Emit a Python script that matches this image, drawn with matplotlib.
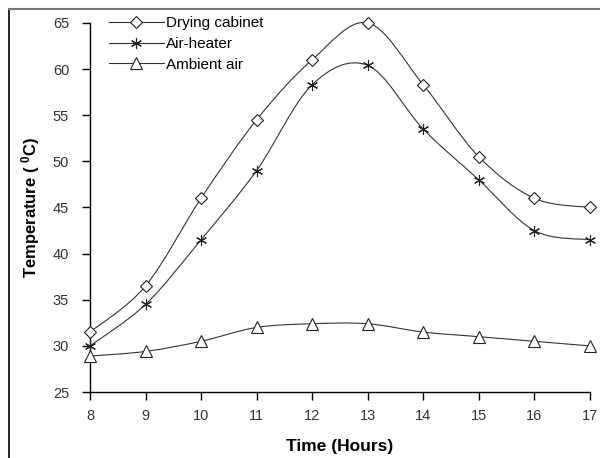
import numpy as np
import matplotlib
matplotlib.use("Agg")
import matplotlib.pyplot as plt
from matplotlib.path import Path
from matplotlib.patches import PathPatch
from matplotlib.lines import Line2D

plt.rcParams['font.family'] = ['Liberation Sans', 'DejaVu Sans']

hours = [8, 9, 10, 11, 12, 13, 14, 15, 16, 17]
drying_cabinet = [31.5, 36.5, 46.0, 54.5, 61.0, 65.0, 58.3, 50.5, 46.0, 45.0]
air_heater = [30.0, 34.5, 41.5, 49.0, 58.3, 60.4, 53.5, 48.0, 42.5, 41.5]
ambient_air = [28.9, 29.4, 30.5, 32.0, 32.4, 32.4, 31.5, 31.0, 30.5, 30.0]


def smooth_path(x, y):
    # Excel-like smoothed line: cubic bezier segments through the points
    p = np.column_stack([x, y]).astype(float)
    ext = np.vstack([p[0], p, p[-1]])
    verts = [p[0]]
    codes = [Path.MOVETO]
    for i in range(len(p) - 1):
        a, b, c, d = ext[i], ext[i + 1], ext[i + 2], ext[i + 3]
        verts += [b + (c - a) / 6, c - (d - b) / 6, c]
        codes += [Path.CURVE4] * 3
    return Path(verts, codes)


fig = plt.figure(figsize=(6, 4.58), dpi=100)
ax = fig.add_axes([0.15, 0.144, 0.833, 0.806])

series = [
    ("Drying cabinet", drying_cabinet, "D", 6),
    ("Air-heater", air_heater, (6, 2, 0), 8),
    ("Ambient air", ambient_air, "^", 8),
]
handles = []
for name, vals, mk, ms in series:
    ax.add_patch(PathPatch(smooth_path(hours, vals), fill=False,
                           edgecolor="#333333", lw=0.8, clip_on=False))
    ax.plot(hours, vals, ls="none", marker=mk, ms=ms, mfc="white",
            mec="#222222", mew=0.8, clip_on=False, zorder=3)
    handles.append(Line2D([], [], color="#333333", lw=0.8, marker=mk, ms=ms,
                          mfc="white", mec="#222222", mew=0.8, label=name))

ax.set_xlim(8, 17)
ax.set_ylim(25, 65)
ax.set_xticks(hours)
ax.set_yticks(range(25, 66, 5))
ax.spines['top'].set_visible(False)
ax.spines['right'].set_visible(False)
for s in ('left', 'bottom'):
    ax.spines[s].set_linewidth(1.0)
ax.tick_params(direction='out', length=6, width=1.0, labelsize=10.5,
               labelcolor="#333333")
ax.tick_params(axis='y', pad=9)
ax.tick_params(axis='x', pad=6)
ax.set_xlabel("Time (Hours)", fontsize=12.5, fontweight='bold', labelpad=12)
ax.set_ylabel("Temperature ( $\\mathregular{^0}$C)", fontsize=12,
              fontweight='bold', labelpad=8)

ax.legend(handles=handles, loc='upper left', bbox_to_anchor=(0.025, 1.035),
          frameon=False, fontsize=11, handlelength=3.6, handletextpad=0.15,
          labelspacing=0.45, borderaxespad=0)

# figure frame (left and top edges only)
fig.add_artist(Line2D([0.015, 0.015], [0, 0.98], color="black", lw=1.2,
                      transform=fig.transFigure))
fig.add_artist(Line2D([0.015, 1], [0.98, 0.98], color="#777777", lw=1.5,
                      transform=fig.transFigure))

fig.savefig("out.png", dpi=100)
